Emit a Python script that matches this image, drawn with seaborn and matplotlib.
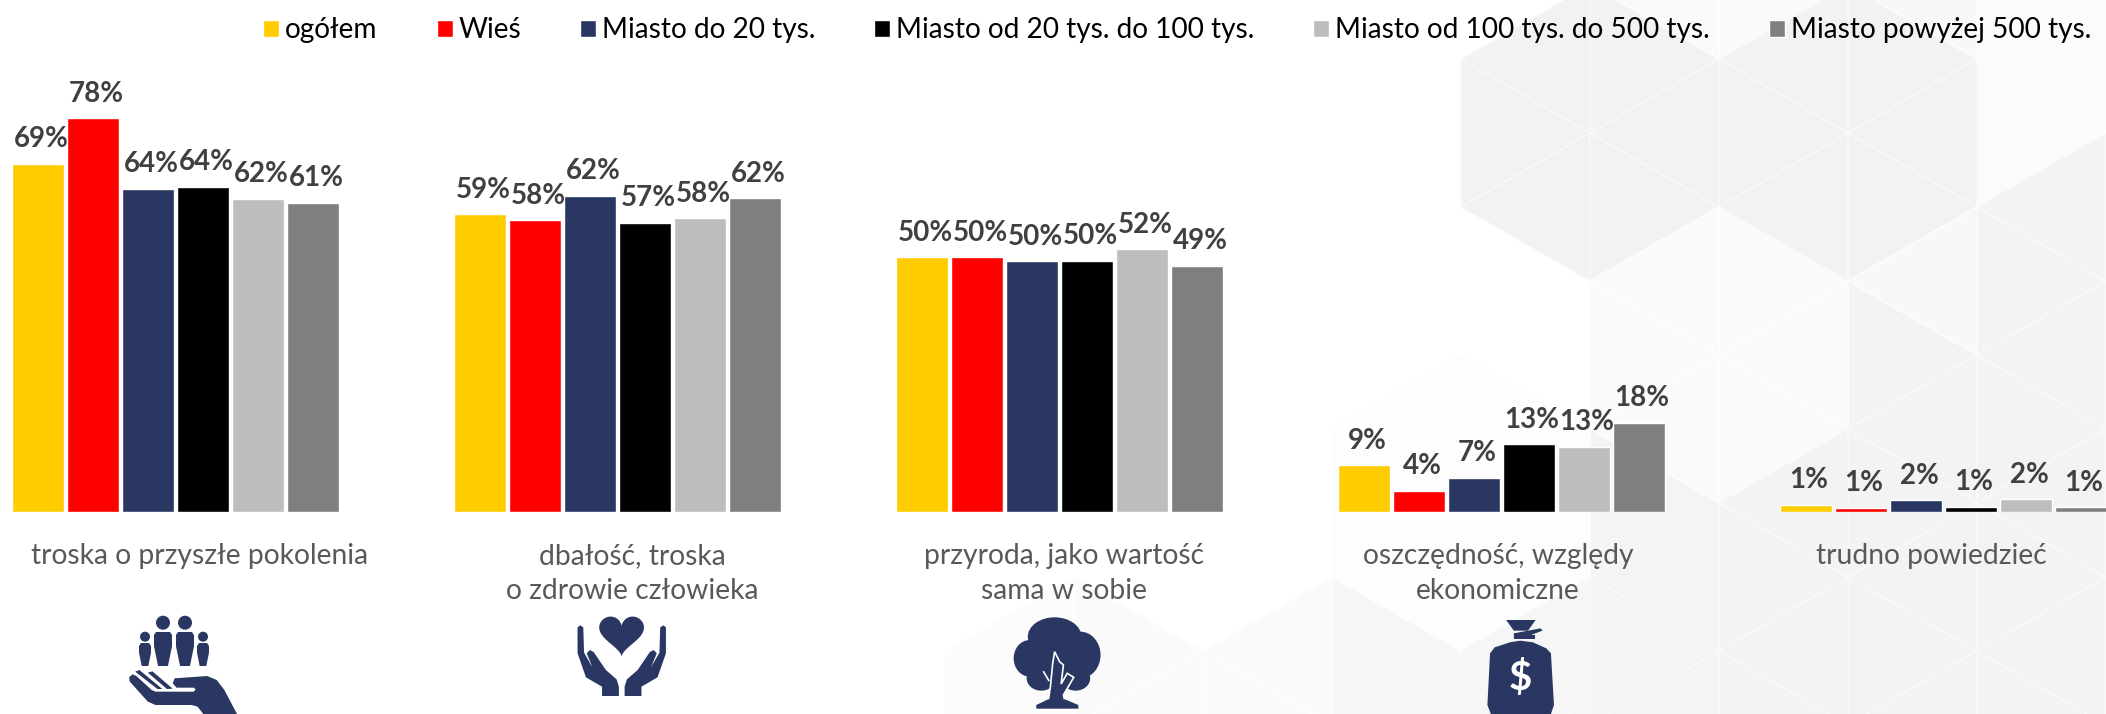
import matplotlib
matplotlib.use("Agg")
import matplotlib.pyplot as plt
from matplotlib.patches import Circle, Ellipse, Polygon
import numpy as np
import pandas as pd
import seaborn as sns

categories = ["troska o przyszłe pokolenia", "dbałość, troska\no zdrowie człowieka",
              "przyroda, jako wartość\nsama w sobie", "oszczędność, względy\nekonomiczne",
              "trudno powiedzieć"]
series_names = ["ogółem", "Wieś", "Miasto do 20 tys.", "Miasto od 20 tys. do 100 tys.",
                "Miasto od 100 tys. do 500 tys.", "Miasto powyżej 500 tys."]
ogolem = [69, 59, 50.4, 9.3, 1.4]
wies = [78, 57.8, 50.4, 4.2, 0.8]
miasto_20 = [64, 62.6, 49.7, 6.8, 2.3]
miasto_100 = [64.4, 57.3, 49.8, 13.4, 1.0]
miasto_500 = [62, 58.2, 52, 12.9, 2.5]
miasto_500p = [61.2, 62.1, 48.8, 17.7, 0.9]
value_labels = [["69%", "59%", "50%", "9%", "1%"], ["78%", "58%", "50%", "4%", "1%"],
                ["64%", "62%", "50%", "7%", "2%"], ["64%", "57%", "50%", "13%", "1%"],
                ["62%", "58%", "52%", "13%", "2%"], ["61%", "62%", "49%", "18%", "1%"]]
colors = ["#FFCC00", "#FF0000", "#293762", "#000000", "#BDBDBD", "#7F7F7F"]

W, H = 2106, 714
BASE = 512
sns.set_theme(style="white", rc={"axes.facecolor": "none"})
plt.rcParams["font.family"] = ["Lato", "DejaVu Sans"]

fig = plt.figure(figsize=(W / 100, H / 100), dpi=100, facecolor="white")

# decorative hexagon background, in pixel coordinates
bg = fig.add_axes([0, 0, 1, 1], zorder=0)
bg.set_xlim(0, W); bg.set_ylim(H, 0); bg.axis("off")
SIDE, DX = 148, 129

def in_hex(px, py, hx, hy):
    return np.hypot(px - hx, py - hy) < 125

def shade(cx, cy):
    if in_hex(cx, cy, 1591, 132) or in_hex(cx, cy, 1849, 132):
        return "#F2F2F2"
    if cx > 1977 and cy < 207:
        return "#FBFBFB"
    if cx > 1849 and cy < 503:
        return "#F8F8F8" if cx < 1977 and cy < 355 else "#F3F3F3"
    if cx > 1591 and cy < 503:
        return "#FAFAFA"
    if cx > 1722:
        return "#F3F3F3"
    if cx > 1591:
        return "#F4F4F4"
    if cx > 1332 and cy > 590:
        return "#F6F6F6"
    if cx > 1332 and cy > 355:
        return "#FDFDFD"
    if cx > 1075 and cy > 590:
        return "#FAFAFA"
    if cx > 940 and cy > 600:
        return "#FCFCFC"
    return None

for col in range(-1, 18):
    x0 = 1590 - DX * 11 + DX * col
    offs = SIDE / 2 if col % 2 else 0
    for row in range(-2, 7):
        y0 = 59 + SIDE * row + offs
        for d in (1, -1):
            tri = np.array([[x0, y0], [x0, y0 + SIDE], [x0 + d * DX, y0 + SIDE / 2]])
            c = tri.mean(axis=0)
            f = shade(*c)
            if f:
                edge = "#FAFAFA" if f < "#F7" else "#FEFEFE"
                bg.add_patch(Polygon(tri, closed=True, fc=f, ec=edge, lw=0.9))

ax = fig.add_axes([0, 1 - BASE / H, 1, BASE / H], zorder=1)
df = pd.DataFrame({"kategoria": categories})
for n, v in zip(series_names, [ogolem, wies, miasto_20, miasto_100, miasto_500, miasto_500p]):
    df[n] = v
long = df.melt("kategoria", var_name="grupa", value_name="proc")
sns.barplot(data=long, x="kategoria", y="proc", hue="grupa", order=categories,
            hue_order=series_names, palette=colors, width=0.7466, gap=0.07,
            saturation=1, ax=ax, legend=True)
PX = 5.05
CENTER0 = 175.5
ax.set_xlim(-CENTER0 / 442, (W - CENTER0) / 442)
ax.set_ylim(0, BASE / PX)
sns.despine(ax=ax, left=True, bottom=True)
ax.set_ylabel(""); ax.set_xlabel(""); ax.set_yticks([])

for cont, labs in zip(ax.containers, value_labels):
    for bar, lab in zip(cont, labs):
        ax.annotate(lab, (bar.get_x() + bar.get_width() / 2, bar.get_height()),
                    xytext=(3, 24.5), textcoords="offset pixels", ha="center", va="center",
                    fontsize=20, fontweight="bold", color="#404040", annotation_clip=False)

label_px = [200, 632, 1064, 1498, 1931]
ax.set_xticks([(p - CENTER0) / 442 for p in label_px], labels=categories)
ax.tick_params(axis="x", length=0, pad=22.5, labelsize=20.3, labelcolor="#595959")
for t in ax.get_xticklabels():
    t.set_linespacing(1.42)

h, l = ax.get_legend_handles_labels()
ax.legend(h, l, ncols=6, loc="upper left", bbox_to_anchor=(245 / W, 1.002), bbox_transform=ax.transAxes,
          frameon=False, fontsize=20.2, labelcolor="black", handlelength=0.57, handleheight=0.58,
          handletextpad=0.21, columnspacing=2.1, borderaxespad=0.55, borderpad=0.1)

# icons in pixel coordinates, above everything
ic = fig.add_axes([0, 0, 1, 1], zorder=2)
ic.set_xlim(0, W); ic.set_ylim(H, 0); ic.axis("off")
NAVY = "#293762"
SX = 600 / 1568

def poly(points, fc=NAVY, **kw):
    kw.setdefault("ec", "none")
    ic.add_patch(Polygon(points, closed=True, fc=fc, **kw))

def zpoly(origin, points, **kw):
    poly([(origin[0] + x * SX, origin[1] + y / 3) for x, y in points], **kw)

def person(cx, head_y, r, w, top, bot):
    ic.add_patch(Circle((cx, head_y), r, fc=NAVY, ec="none"))
    poly([(cx - w, top + 3), (cx - w + 2, top), (cx + w - 2, top), (cx + w, top + 3),
          (cx + w, top + (bot - top) * .42), (cx + w * .55, bot), (cx - w * .55, bot),
          (cx - w, top + (bot - top) * .42)])

# people on a hand
person(145, 636.7, 5, 6, 643, 666)
person(163, 622.7, 7, 9, 632, 666)
person(185, 622.7, 7, 9, 632, 666)
person(203, 636.7, 5, 6, 643, 666)
o1 = (100, 590)
zpoly(o1, [(76, 262), (85, 253), (95, 258), (135, 300), (145, 305), (245, 305), (250, 298), (245, 293), (200, 293),
           (190, 280), (195, 265), (280, 258), (305, 270), (325, 300), (358, 372), (270, 372), (255, 350), (240, 345),
           (145, 345), (125, 335), (78, 275)])
zpoly(o1, [(92, 245), (103, 240), (163, 297), (150, 297)])
zpoly(o1, [(125, 248), (137, 244), (190, 296), (175, 297)])

# heart in hands
t = np.linspace(0, 2 * np.pi, 80)
hx = 16 * np.sin(t) ** 3
hy = 13 * np.cos(t) - 5 * np.cos(2 * t) - 2 * np.cos(3 * t) - np.cos(4 * t)
poly(np.c_[621.6 + hx * 1.4, 633 - hy * 1.38])
hand = [(1248, 112), (1255, 106), (1263, 112), (1265, 188), (1287, 232), (1272, 190), (1280, 180), (1290, 186),
        (1322, 240), (1350, 268), (1356, 290), (1356, 318), (1312, 318), (1312, 290), (1270, 262), (1248, 190)]
zpoly(o1, hand)
zpoly(o1, [(2727 - x, y) for x, y in hand])

# tree
o2 = (980, 590)
for cx, cy, rx, ry in [(195, 140, 70, 58), (130, 205, 42, 55), (262, 195, 53, 70), (160, 265, 38, 37),
                       (250, 265, 38, 37), (200, 210, 75, 80)]:
    ic.add_patch(Ellipse((o2[0] + cx * SX, o2[1] + cy / 3), 2 * rx * SX, 2 * ry / 3, fc=NAVY, ec="none"))
zpoly(o2, [(178, 335), (184, 290), (190, 220), (195, 185), (208, 215), (218, 225), (212, 282), (228, 250), (245, 262),
           (218, 315), (222, 335)], ec="white", lw=1.2)
zpoly(o2, [(147, 356), (147, 345), (178, 328), (222, 328), (257, 345), (257, 356)])
ic.plot([o2[0] + 166 * SX, o2[0] + 180 * SX], [o2[1] + 245 / 3, o2[1] + 272 / 3], color="white", lw=1.2)

# money bag
zpoly(o2, [(1375, 90), (1452, 90), (1432, 122), (1395, 122)])
zpoly(o2, [(1395, 130), (1465, 115), (1470, 122), (1440, 135), (1395, 140)])
zpoly(o2, [(1395, 135), (1450, 135), (1450, 146), (1395, 146)])
zpoly(o2, [(1385, 157), (1412, 152), (1445, 157), (1480, 175), (1492, 190), (1500, 345), (1492, 372),
           (1335, 372), (1326, 345), (1333, 190), (1345, 172)])
ic.text(1520.8, 678, "$", ha="center", va="center", color="white", fontsize=29, fontweight="bold")

fig.savefig("out.png", dpi=100, facecolor="white")
